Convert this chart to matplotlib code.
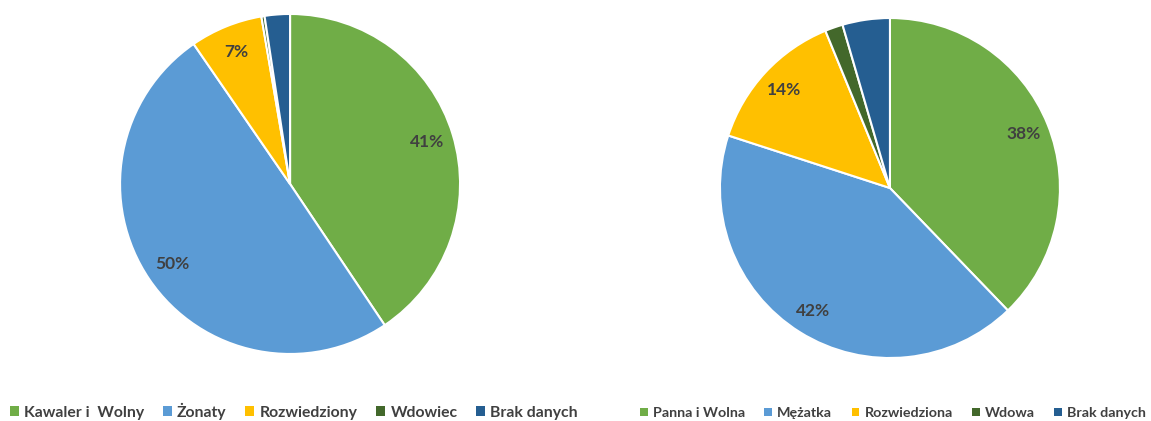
import numpy as np
import matplotlib.pyplot as plt
from matplotlib.patches import Patch

# dane
men_labels = ["Kawaler i  Wolny", "Żonaty", "Rozwiedziony", "Wdowiec", "Brak danych"]
men_values = [40.6, 49.8, 6.9, 0.3, 2.4]
men_pct_text = ["41%", "50%", "7%", "", ""]

women_labels = ["Panna i Wolna", "Mężatka", "Rozwiedziona", "Wdowa", "Brak danych"]
women_values = [37.8, 42.2, 13.8, 1.7, 4.5]
women_pct_text = ["38%", "42%", "14%", "", ""]

colors = ["#70AD47", "#5B9BD5", "#FFC000", "#43682B", "#255E91"]
txt_color = "#404040"

plt.rcParams["font.family"] = ["Lato", "DejaVu Sans"]

fig = plt.figure(figsize=(11.51, 4.21), dpi=100)


def draw_pie(rect, values, pct_text, pctdist):
    ax = fig.add_axes(rect)
    wedges, _ = ax.pie(
        values,
        colors=colors,
        startangle=90,
        counterclock=False,
        wedgeprops=dict(edgecolor="white", linewidth=1.5),
    )
    for w, t in zip(wedges, pct_text):
        if not t:
            continue
        ang = np.deg2rad((w.theta1 + w.theta2) / 2)
        ax.text(pctdist * np.cos(ang), pctdist * np.sin(ang), t,
                ha="center", va="center", fontsize=12.5, fontweight="bold",
                color=txt_color)
    ax.set_xlim(-1.0, 1.0)
    ax.set_ylim(-1.0, 1.0)
    ax.set_aspect("equal")
    ax.axis("off")
    return ax


draw_pie([0.1043, 0.1592, 0.2954, 0.8076], men_values, men_pct_text, 0.84)
draw_pie([0.6255, 0.1496, 0.2954, 0.8076], women_values, women_pct_text, 0.85)

men_handles = [Patch(facecolor=c, label=l) for c, l in zip(colors, men_labels)]
women_handles = [Patch(facecolor=c, label=l) for c, l in zip(colors, women_labels)]

leg1 = fig.legend(handles=men_handles, loc="center", ncol=5,
                  bbox_to_anchor=(294 / 1151, 1 - 411 / 421), frameon=False,
                  prop=dict(size=11.3, weight="bold"), handlelength=0.55,
                  handleheight=0.55, handletextpad=0.35, columnspacing=1.2)
leg2 = fig.legend(handles=women_handles, loc="center", ncol=5,
                  bbox_to_anchor=(893 / 1151, 1 - 413 / 421), frameon=False,
                  prop=dict(size=10.3, weight="bold"), handlelength=0.55,
                  handleheight=0.55, handletextpad=0.35, columnspacing=1.35)
for leg in (leg1, leg2):
    for t in leg.get_texts():
        t.set_color(txt_color)

fig.savefig("out.png", dpi=100, facecolor="white")
